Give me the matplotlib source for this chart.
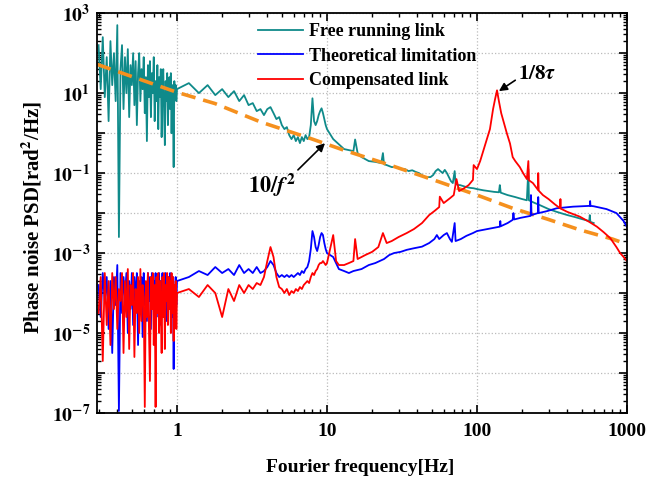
import numpy as np
import matplotlib
matplotlib.use("Agg")
import matplotlib.pyplot as plt
from matplotlib.ticker import LogLocator, FixedLocator, NullFormatter

plt.rcParams['font.family'] = ['Liberation Serif', 'DejaVu Serif']
plt.rcParams['font.weight'] = 'bold'
plt.rcParams['mathtext.fontset'] = 'stix'

# ---- data (values are log10 of PSD) ----
# 0.30 .. 1.00 Hz, 0.01 Hz steps
f_low = [0.30, 0.31, 0.32, 0.33, 0.34, 0.35, 0.36, 0.37, 0.38, 0.39,
         0.40, 0.41, 0.42, 0.43, 0.44, 0.45, 0.46, 0.47, 0.48, 0.49,
         0.50, 0.51, 0.52, 0.53, 0.54, 0.55, 0.56, 0.57, 0.58, 0.59,
         0.60, 0.61, 0.62, 0.63, 0.64, 0.65, 0.66, 0.67, 0.68, 0.69,
         0.70, 0.71, 0.72, 0.73, 0.74, 0.75, 0.76, 0.77, 0.78, 0.79,
         0.80, 0.81, 0.82, 0.83, 0.84, 0.85, 0.86, 0.87, 0.88, 0.89,
         0.90, 0.91, 0.92, 0.93, 0.94, 0.95, 0.96, 0.97, 0.98, 0.99, 1.00]
# 1.2 .. 10 Hz, 0.2 Hz steps
f_mid = [1.2, 1.4, 1.6, 1.8, 2.0, 2.2, 2.4, 2.6, 2.8, 3.0,
         3.2, 3.4, 3.6, 3.8, 4.0, 4.2, 4.4, 4.6, 4.8, 5.0,
         5.2, 5.4, 5.6, 5.8, 6.0, 6.2, 6.4, 6.6, 6.8, 7.0,
         7.2, 7.4, 7.6, 7.8, 8.0, 8.2, 8.4, 8.6, 8.8, 9.0,
         9.2, 9.4, 9.6, 9.8, 10.0]

free_low = [2.2, 1.1, 2.4, 0.9, 1.9, 0.3, 2.3, 1.2, 2.0, 0.8,
            2.7, -2.6, 1.6, 2.2, 0.6, 1.9, 1.0, 2.1, 0.4, 1.7,
            1.2, 2.0, 0.7, 1.8, 0.2, 1.5, 2.0, 0.8, 1.6, 1.1,
            1.9, 0.5, 1.4, -0.2, 1.7, 0.9, 1.8, 0.4, 1.5, 1.0,
            1.9, 0.3, 1.3, 0.8, 1.7, 0.1, 1.4, 0.9, 1.6, -0.1,
            1.2, 1.6, 0.5, -0.3, 1.3, 0.8, 1.5, 0.2, 1.1, 1.4,
            0.6, 1.5, 0.0, 1.2, 0.7, -0.85, 1.3, 0.9, 1.2, 0.8, 1.1]
free_mid = [1.25, 1.0, 1.2, 0.95, 1.1, 0.9, 1.05, 0.8, 0.95, 0.7,
            0.75, 0.55, 0.6, 0.45, 0.6, 0.65, 0.5, 0.35, 0.4, 0.2,
            0.1, 0.15, -0.05, -0.15, -0.05, -0.2, -0.1, -0.25, -0.1, -0.2,
            -0.05, -0.15, -0.1, 0.2, 0.87, 0.3, 0.2, 0.3, 0.45, 0.55,
            0.62, 0.5, 0.35, 0.2, 0.1]
f_free_hi = [11, 13, 15, 15.4, 16, 17, 19, 21, 23, 23.6, 24, 25, 27, 29, 31, 33, 35,
             37, 39, 41, 43, 45, 47, 49, 51, 53, 55, 57, 59, 61, 63, 65, 67,
             69, 71, 72, 73, 75, 77, 80, 85, 90, 95, 100, 110, 120, 130, 140,
             142, 144, 160, 180, 200, 215, 220, 222, 240, 262, 300, 340, 400,
             450, 500, 560, 565, 570, 600]
free_hi = [-0.15, -0.4, -0.45, -0.16, -0.5, -0.6, -0.7, -0.72, -0.75, -0.5, -0.78,
           -0.8, -0.85, -0.85, -0.9, -0.9, -0.95, -0.93, -0.97, -1.0, -1.05,
           -1.1, -1.1, -1.1, -1.05, -0.95, -0.9, -0.95, -1.0, -0.92, -1.0,
           -1.1, -1.2, -1.25, -0.95, -1.27, -1.28, -1.3, -1.3, -1.32, -1.35,
           -1.37, -1.38, -1.4, -1.43, -1.45, -1.47, -1.48, -1.3, -1.49,
           -1.55, -1.6, -1.65, -1.68, -0.9, -1.68, -1.74, -1.8, -1.9, -1.97,
           -2.05, -2.1, -2.15, -2.2, -2.05, -2.22, -2.25]

theo_low = [-3.8, -4.6, -3.5, -4.2, -3.6, -4.9, -3.7, -5.5, -3.6, -4.3,
            -3.3, -6.95, -3.5, -4.5, -3.6, -4.1, -3.5, -5.0, -3.7, -4.4,
            -3.5, -4.8, -3.6, -4.2, -3.5, -5.3, -3.7, -4.5, -3.6, -5.1,
            -3.5, -4.3, -3.8, -4.7, -3.5, -4.2, -3.6, -4.9, -3.5, -4.4,
            -3.7, -4.0, -3.5, -4.6, -3.6, -4.2, -3.5, -4.8, -3.7, -4.1,
            -3.5, -4.5, -3.6, -4.3, -3.5, -4.7, -3.8, -4.0, -3.6, -4.4,
            -3.5, -4.2, -3.7, -4.6, -3.6, -5.9, -3.8, -4.1, -3.6, -4.3, -3.7]
theo_mid = [-3.6, -3.45, -3.55, -3.35, -3.5, -3.4, -3.55, -3.3, -3.5, -3.4,
            -3.5, -3.35, -3.5, -3.45, -3.35, -3.2, -3.3, -3.5, -3.6, -3.55,
            -3.6, -3.55, -3.6, -3.55, -3.6, -3.55, -3.5, -3.55, -3.45, -3.5,
            -3.4, -3.35, -3.2, -2.9, -2.45, -2.6, -2.85, -2.95, -2.8, -2.6,
            -2.5, -2.55, -2.75, -2.9, -3.0]
f_theo_hi = [11, 12, 13, 14, 15, 17, 19, 21, 24, 26, 28, 31, 34, 38, 43, 48,
             52, 54, 56, 60, 63, 66, 68, 71, 72, 78, 85, 94, 100, 110, 125,
             142, 143, 144, 160, 173, 175, 177, 195, 215, 228, 229, 231, 255,
             256, 258, 294, 340, 437, 565, 568, 571, 600, 730, 850, 950, 1000]
theo_hi = [-3.1, -3.4, -3.45, -3.5, -3.45, -3.4, -3.3, -3.25, -3.15, -3.05,
           -3.0, -2.97, -2.92, -2.88, -2.84, -2.75, -2.65, -2.55, -2.65,
           -2.55, -2.5, -2.65, -2.72, -2.25, -2.7, -2.65, -2.57, -2.5, -2.45,
           -2.42, -2.38, -2.34, -2.2, -2.33, -2.25, -2.17, -2.0, -2.16, -2.12,
           -2.09, -2.07, -1.55, -2.05, -2.0, -1.6, -2.0, -1.95, -1.88, -1.84,
           -1.82, -1.7, -1.82, -1.83, -1.9, -2.0, -2.2, -2.35]

comp_low = [-4.5, -3.6, -5.7, -3.5, -4.8, -3.7, -5.3, -3.5, -4.4, -3.6,
            -4.9, -3.9, -4.2, -3.5, -5.5, -3.7, -4.6, -3.4, -5.4, -3.8,
            -4.3, -3.5, -5.6, -3.9, -4.5, -3.6, -5.0, -3.4, -4.7, -3.8,
            -4.1, -6.85, -3.7, -4.6, -3.5, -4.9, -6.2, -3.6, -4.4, -3.5,
            -5.3, -3.8, -6.85, -3.6, -4.5, -3.5, -5.0, -3.7, -4.3, -5.5,
            -3.6, -4.6, -3.5, -5.4, -3.8, -4.2, -3.5, -4.8, -3.6, -4.4,
            -3.7, -5.0, -3.5, -4.5, -3.6, -5.2, -3.8, -4.3, -3.7, -4.9, -4.0]
comp_mid = [-3.9, -4.1, -3.8, -4.0, -4.6, -3.9, -4.2, -3.8, -4.0, -3.8,
            -3.9, -3.75, -3.8, -3.6, -3.2, -2.85, -3.1, -3.6, -3.85, -3.9,
            -4.0, -3.9, -4.05, -3.95, -4.0, -3.9, -3.95, -3.85, -3.9, -3.8,
            -3.75, -3.7, -3.75, -3.6, -3.5, -3.55, -3.45, -3.4, -3.3, -3.25,
            -3.25, -3.2, -3.25, -3.3, -3.25]
f_comp_hi = [11, 11.5, 12, 13, 14, 15, 15.4, 16, 18, 20, 22, 23.6, 25, 27, 30,
             34, 38, 43, 48, 52, 56, 56.5, 60, 66, 70, 73, 76, 82, 88, 94, 95,
             100, 105, 110, 116, 122, 128, 132, 136, 140, 145, 150, 158, 166,
             173, 180, 193, 203, 215, 220, 222, 236, 255, 256, 258, 275, 300,
             330, 358, 360, 362, 400, 485, 560, 630, 700, 775, 850, 900, 950, 1000]
comp_hi = [-2.55, -3.2, -3.3, -3.3, -3.25, -3.2, -2.65, -3.15, -3.05, -2.97,
           -2.85, -2.5, -2.75, -2.7, -2.6, -2.5, -2.4, -2.25, -2.05, -1.95,
           -1.85, -1.59, -1.75, -1.63, -1.55, -1.15, -1.45, -1.38, -1.3, -1.17,
           -0.8, -0.9, -0.7, -0.45, -0.17, 0.1, 0.6, 0.85, 1.07, 0.8, 0.5,
           0.3, 0.0, -0.26, -0.6, -0.7, -0.85, -1.0, -1.15, -0.7, -1.18,
           -1.25, -1.42, -1.0, -1.44, -1.55, -1.65, -1.78, -1.88, -1.65, -1.89,
           -1.97, -2.09, -2.22, -2.34, -2.48, -2.63, -2.85, -3.0, -3.1, -3.2]

f_fit = [0.293, 1, 1.79, 3.6, 7.7, 12.8, 26.3, 56, 100, 173, 294, 485, 800, 1000]
fit = [1.72, 1.02, 0.74, 0.28, -0.13, -0.42, -0.8, -1.22, -1.55, -1.88, -2.15,
       -2.42, -2.65, -2.78]

f_free = f_low + f_mid + f_free_hi
f_theo = f_low + f_mid + f_theo_hi
f_comp = f_low + f_mid + f_comp_hi
psd_free = 10 ** np.array(free_low + free_mid + free_hi)
psd_theo = 10 ** np.array(theo_low + theo_mid + theo_hi)
psd_comp = 10 ** np.array(comp_low + comp_mid + comp_hi)
psd_fit = 10 ** np.array(fit)

fig = plt.figure(figsize=(6.71, 4.87), dpi=100)
ax = fig.add_axes([0.1446, 0.152, 0.7898, 0.821])

ax.plot(f_free, psd_free, color='#0f8a8a', lw=1.3, label='Free running link')
ax.plot(f_fit, psd_fit, color='#f5901e', lw=2.6, ls=(0, (4, 2.2)))
ax.plot(f_theo, psd_theo, color='#0000ff', lw=1.3, label='Theoretical limitation')
ax.plot(f_comp, psd_comp, color='#ff0000', lw=1.3, label='Compensated link')

ax.set_xscale('log')
ax.set_yscale('log')
ax.set_xlim(0.293, 1000)
ax.set_ylim(1e-7, 1e3)

ax.xaxis.set_major_locator(FixedLocator([1, 10, 100, 1000]))
ax.set_xticklabels(['1', '10', '100', '1000'])
ax.xaxis.set_minor_locator(LogLocator(base=10, subs=np.arange(2, 10)))
ax.xaxis.set_minor_formatter(NullFormatter())

ymaj = [10.0 ** e for e in range(-7, 4)]
ax.yaxis.set_major_locator(FixedLocator(ymaj))
ax.set_yticklabels([r'$\mathbf{10^{%d}}$' % e if e % 2 else '' for e in range(-7, 4)])
ax.yaxis.set_minor_locator(LogLocator(base=10, subs=np.arange(2, 10), numticks=30))
ax.yaxis.set_minor_formatter(NullFormatter())

ax.tick_params(which='both', direction='in', top=True, right=True, labelsize=14)
ax.tick_params(axis='x', which='major', pad=7)
ax.tick_params(axis='y', which='major', pad=5)
ax.tick_params(which='major', length=6, width=1.2)
ax.tick_params(which='minor', length=3, width=1)
for s in ax.spines.values():
    s.set_linewidth(1.3)

ax.grid(True, which='major', ls=':', color='#bbbbbb', lw=0.9)

ax.set_xlabel('Fourier frequency[Hz]', fontsize=14, fontweight='bold')
ax.xaxis.set_label_coords(0.496, -0.115)
ax.set_ylabel(r'Phase noise PSD[rad$^{\mathbf{2}}$/Hz]', fontsize=15, fontweight='bold')
ax.yaxis.set_label_coords(-0.1, 0.49)

leg = ax.legend(loc='upper left', bbox_to_anchor=(0.285, 1.0), borderaxespad=0,
                frameon=False, fontsize=13, handlelength=2.5, handletextpad=0.3,
                labelspacing=0.42, borderpad=0.55)
for t in leg.get_texts():
    t.set_fontweight('bold')

ax.text(4.3, 0.05, r'$\mathbf{10/}\mathbfit{f}^{\,\mathbf{2}}$', ha='center', va='center',
        fontsize=16)
ax.annotate('', xy=(9.7, 0.56), xytext=(6.4, 0.12),
            arrowprops=dict(arrowstyle='-|>', color='black', lw=1.2, shrinkA=0, shrinkB=0,
                            mutation_scale=12))
ax.text(250, 30, r'$\mathbf{1/8}\mathit{\tau}$', ha='center', va='center', fontsize=15)
ax.annotate('', xy=(140, 11.2), xytext=(180, 21),
            arrowprops=dict(arrowstyle='-|>', color='black', lw=1.2, shrinkA=0, shrinkB=0,
                            mutation_scale=12))

fig.savefig('out.png', dpi=100)
